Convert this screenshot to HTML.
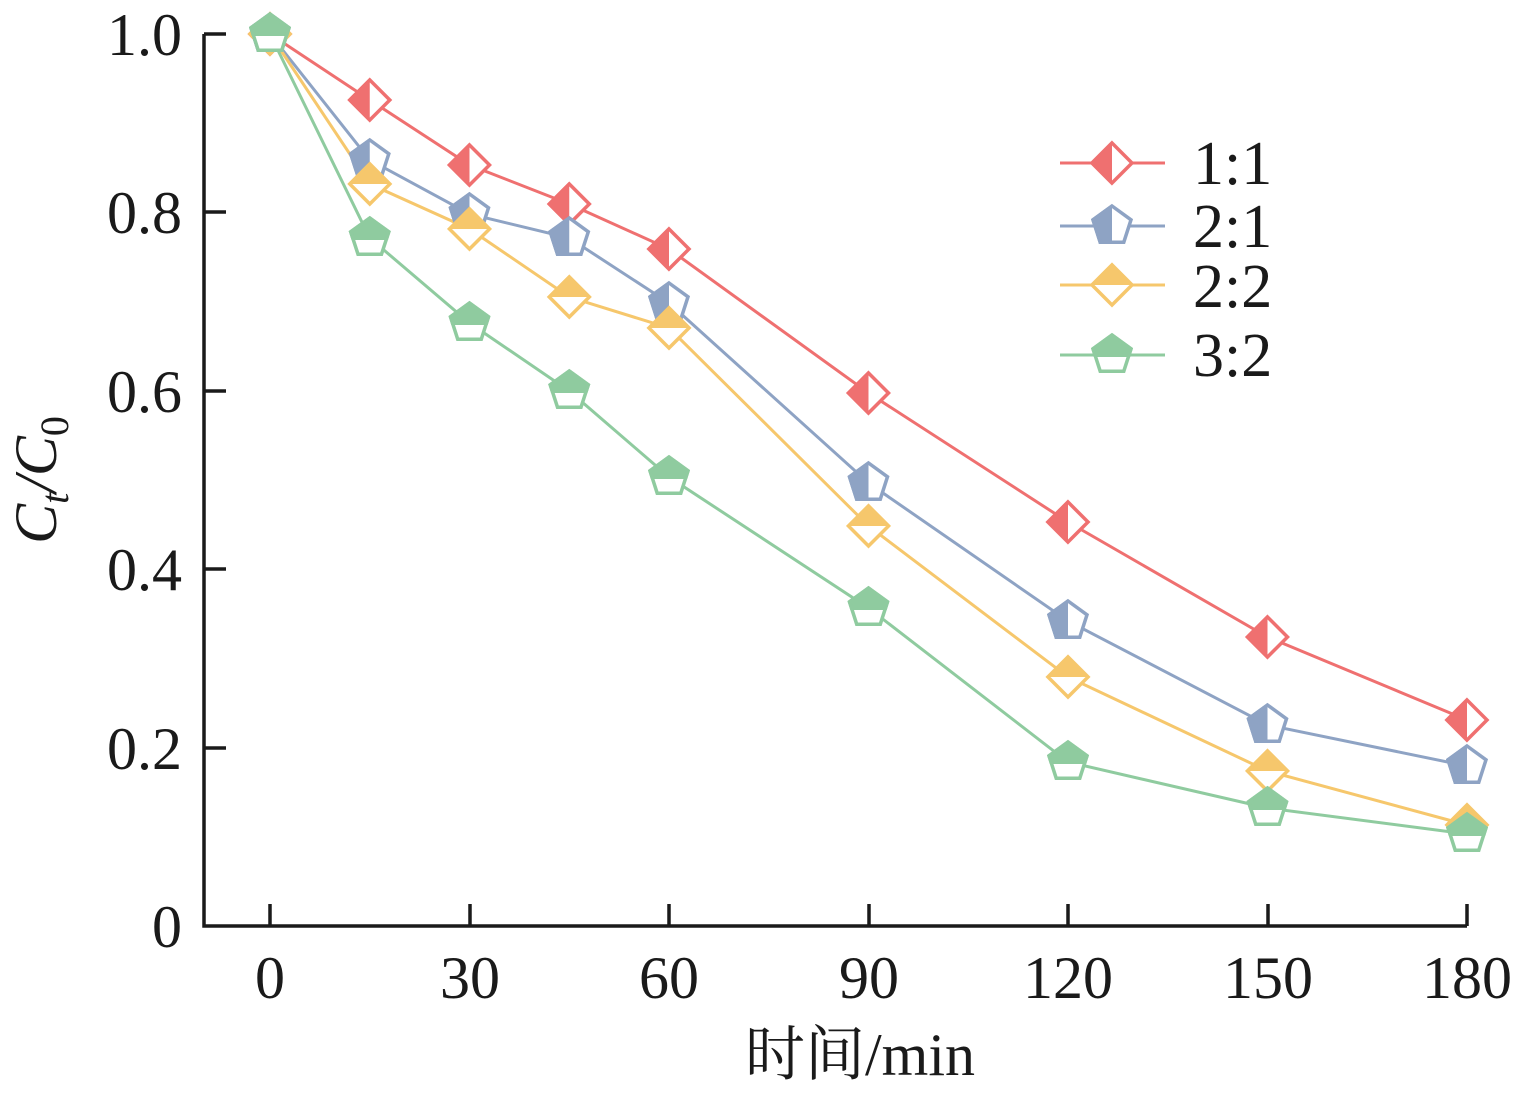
<!DOCTYPE html>
<html><head><meta charset="utf-8"><style>
html,body{margin:0;padding:0;background:#fff;}
svg{display:block;font-family:"Liberation Serif","Times New Roman","Noto Serif CJK SC",serif;}
</style></head><body>
<svg id="s" width="1522" height="1097" xmlns="http://www.w3.org/2000/svg">
<defs id="d"></defs>
<g stroke="#1a1a1a" stroke-width="3.5" fill="none">
<path d="M204 34 V926 H1467"/>
<path d="M204 34 h22 M204 212 h22 M204 391 h22 M204 569 h22 M204 748 h22"/>
<path d="M270 926 v-22 M470 926 v-22 M669 926 v-22 M869 926 v-22 M1068 926 v-22 M1268 926 v-22 M1467 926 v-22"/>
</g>
<g font-size="60" fill="#1a1a1a" text-anchor="end">
<text x="182" y="55">1.0</text><text x="182" y="233">0.8</text><text x="182" y="412">0.6</text>
<text x="182" y="590">0.4</text><text x="182" y="769">0.2</text><text x="182" y="947">0</text>
</g>
<g font-size="60" fill="#1a1a1a" text-anchor="middle">
<text x="270" y="998">0</text><text x="470" y="998">30</text><text x="669" y="998">60</text>
<text x="869" y="998">90</text><text x="1068" y="998">120</text><text x="1268" y="998">150</text><text x="1467" y="998">180</text>
<text x="860" y="1075">时间/min</text>
</g>
<text transform="translate(56,480) rotate(-90)" font-size="60" fill="#1a1a1a" text-anchor="middle" font-style="italic">C<tspan font-size="40" dy="12">t</tspan><tspan dy="-12">/C</tspan><tspan font-size="40" dy="12" font-style="normal">0</tspan></text>
<g font-size="62" fill="#1a1a1a">
<text x="1193" y="184">1:1</text><text x="1193" y="247">2:1</text><text x="1193" y="307">2:2</text><text x="1193" y="376">3:2</text>
</g>
<g id="g"></g>
</svg>
<script>
var NS="http://www.w3.org/2000/svg",g=document.getElementById('g'),d=document.getElementById('d'),cid=0;
var T=[0,15,30,45,60,90,120,150,180];
var S=[
{c:"#ef7070",m:"dl",y:[34,100,165,204,249,393,522,637,720],ly:163},
{c:"#8ea3c4",m:"pl",y:[34,160,214,238,303,483,621,725,766],ly:226},
{c:"#f6c76c",m:"dt",y:[34,184,229,297,328,526,677,771,825],ly:285},
{c:"#8fcb9f",m:"pt",y:[34,238,323,391,477,608,762,808,834],ly:355}];
function el(n,a,p){var e=document.createElementNS(NS,n);for(var k in a)e.setAttribute(k,a[k]);(p||g).appendChild(e);return e;}
function pts(m,x,y){var r=20,p=[];if(m[0]=='d'){p=[[x,y-r],[x+r,y],[x,y+r],[x-r,y]];}else{for(var i=0;i<5;i++){var a=(-90+72*i)*Math.PI/180;p.push([x+r*Math.cos(a),y+r*Math.sin(a)]);}}return p.map(function(q){return q[0].toFixed(1)+","+q[1].toFixed(1)}).join(" ");}
function mark(s,x,y){var p=pts(s.m,x,y);var id="c"+(cid++);var cp=el("clipPath",{id:id},d);
if(s.m[1]=='l')el("rect",{x:x-30,y:y-30,width:30,height:60},cp);else el("rect",{x:x-30,y:y-30,width:60,height:s.m[0]=='d'?30:32},cp);
el("polygon",{points:p,fill:"#fff",stroke:s.c,"stroke-width":3.5});
el("polygon",{points:p,fill:s.c,stroke:s.c,"stroke-width":3.5,"clip-path":"url(#"+id+")"});}
S.forEach(function(s){el("polyline",{points:T.map(function(t,i){return (270+t*6.65)+","+s.y[i]}).join(" "),fill:"none",stroke:s.c,"stroke-width":3});
el("line",{x1:1060,y1:s.ly,x2:1165,y2:s.ly,stroke:s.c,"stroke-width":3});});
S.forEach(function(s){T.forEach(function(t,i){mark(s,270+t*6.65,s.y[i]);});mark(s,1112,s.ly);});
</script>
</body></html>
